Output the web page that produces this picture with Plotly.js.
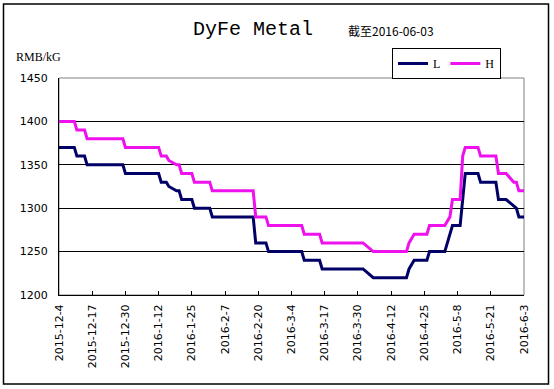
<!DOCTYPE html>
<html>
<head>
<meta charset="utf-8">
<script src="https://cdn.plot.ly/plotly-3.0.1.min.js"></script>
<style>
html,body{margin:0;padding:0;background:#fff;}
#chart{width:554px;height:389px;}
</style>
</head>
<body>
<div id="chart"></div>
<script>
// ---- data ----
const hDates = ['2015-12-04','2015-12-10','2015-12-11','2015-12-14','2015-12-15','2015-12-29','2015-12-30','2016-01-12','2016-01-13','2016-01-15','2016-01-16','2016-01-19','2016-01-20','2016-01-21','2016-01-25','2016-01-26','2016-02-01','2016-02-02','2016-02-18','2016-02-19','2016-02-23','2016-02-24','2016-03-08','2016-03-09','2016-03-15','2016-03-16','2016-04-01','2016-04-05','2016-04-18','2016-04-19','2016-04-21','2016-04-26','2016-04-27','2016-05-03','2016-05-05','2016-05-06','2016-05-09','2016-05-10','2016-05-11','2016-05-16','2016-05-17','2016-05-23','2016-05-24','2016-05-27','2016-05-30','2016-05-31','2016-06-01','2016-06-03'];
const hValues = [1400,1400,1390,1390,1380,1380,1370,1370,1360,1360,1355,1350,1350,1340,1340,1330,1330,1320,1320,1290,1290,1280,1280,1270,1270,1260,1260,1250,1250,1260,1270,1270,1280,1280,1290,1310,1310,1360,1370,1370,1360,1360,1340,1340,1330,1330,1320,1320];

const lDates = ['2015-12-04','2015-12-10','2015-12-11','2015-12-14','2015-12-15','2015-12-29','2015-12-30','2016-01-12','2016-01-13','2016-01-15','2016-01-16','2016-01-19','2016-01-20','2016-01-21','2016-01-25','2016-01-26','2016-02-01','2016-02-02','2016-02-18','2016-02-19','2016-02-23','2016-02-24','2016-03-08','2016-03-09','2016-03-15','2016-03-16','2016-04-01','2016-04-05','2016-04-18','2016-04-19','2016-04-21','2016-04-26','2016-04-27','2016-05-03','2016-05-06','2016-05-09','2016-05-11','2016-05-16','2016-05-17','2016-05-23','2016-05-24','2016-05-27','2016-05-31','2016-06-01','2016-06-03'];
const lValues = [1370,1370,1360,1360,1350,1350,1340,1340,1330,1330,1325,1320,1320,1310,1310,1300,1300,1290,1290,1260,1260,1250,1250,1240,1240,1230,1230,1220,1220,1230,1240,1240,1250,1250,1280,1280,1340,1340,1330,1330,1310,1310,1300,1290,1290];

const tickDates = ['2015-12-04','2015-12-17','2015-12-30','2016-01-12','2016-01-25','2016-02-07','2016-02-20','2016-03-04','2016-03-17','2016-03-30','2016-04-12','2016-04-25','2016-05-08','2016-05-21','2016-06-03'];
const tickLabels = ['2015-12-4','2015-12-17','2015-12-30','2016-1-12','2016-1-25','2016-2-7','2016-2-20','2016-3-4','2016-3-17','2016-3-30','2016-4-12','2016-4-25','2016-5-8','2016-5-21','2016-6-3'];
const yTicks = [1200,1250,1300,1350,1400,1450];

const titleText = 'DyFe Metal';
const subTitle = '截至2016-06-03';
const unitText = 'RMB/kG';

// ---- layout helpers (pixel -> paper) ----
const W = 554, H = 389;
const M = {l:59, r:30, t:78, b:94};
const PW = W - M.l - M.r, PH = H - M.t - M.b;
const px = x => (x - M.l) / PW;
const py = y => (H - M.b - y) / PH;

const traces = [
  {x: lDates, y: lValues, name: 'L', type: 'scatter', mode: 'lines',
   line: {color: '#000066', width: 3}},
  {x: hDates, y: hValues, name: 'H', type: 'scatter', mode: 'lines',
   line: {color: '#ee11ee', width: 3}}
];

const layout = {
  width: W, height: H,
  margin: M,
  paper_bgcolor: '#ffffff', plot_bgcolor: '#ffffff',
  showlegend: true,
  font: {family: 'DejaVu Sans', size: 11, color: '#000'},
  title: {text: titleText, xref: 'paper', x: px(253), xanchor: 'center',
          yref: 'container', y: 1 - 28/H, yanchor: 'middle',
          font: {family: 'Liberation Mono', size: 20, color: '#000'}},
  legend: {orientation: 'h', x: px(392), y: py(48), xanchor: 'left', yanchor: 'top',
           bordercolor: '#000', borderwidth: 1, bgcolor: '#fff',
           font: {family: 'Liberation Serif', size: 12, color: '#000'},
           itemwidth: 30, tracegroupgap: 0},
  xaxis: {type: 'date', range: [tickDates[0], tickDates[tickDates.length-1]],
          tickmode: 'array', tickvals: tickDates, ticktext: tickLabels,
          tickangle: -90, ticks: 'inside', ticklen: 4, tickcolor: '#000',
          showline: true, linecolor: '#000', linewidth: 1, mirror: false,
          showgrid: false, zeroline: false, ticklabelstandoff: 4,
          tickfont: {family: 'DejaVu Sans', size: 11, color: '#000'}},
  yaxis: {range: [1200, 1450], tickmode: 'array', tickvals: yTicks,
          showline: true, linecolor: '#000', linewidth: 1,
          showgrid: true, gridcolor: '#000', gridwidth: 1, zeroline: false,
          ticks: '', ticklabelstandoff: 8,
          tickfont: {family: 'DejaVu Sans', size: 11, color: '#000'}},
  shapes: [
    {type: 'rect', xref: 'paper', yref: 'paper', x0: 0, x1: 1, y0: 0, y1: 1,
     line: {color: '#808080', width: 1}, layer: 'below'},
    {type: 'rect', xref: 'paper', yref: 'paper', x0: px(3.5), x1: px(548.5), y0: py(4), y1: py(384),
     line: {color: '#000', width: 1.5}, fillcolor: 'rgba(0,0,0,0)'}
  ],
  annotations: [
    {text: subTitle, xref: 'paper', yref: 'paper', x: px(346), y: py(31),
     xanchor: 'left', yanchor: 'middle', showarrow: false,
     font: {family: 'Noto Sans CJK SC', size: 12, color: '#000'}},
    {text: unitText, xref: 'paper', yref: 'paper', x: px(14), y: py(57),
     xanchor: 'left', yanchor: 'middle', showarrow: false,
     font: {family: 'Liberation Serif', size: 12, color: '#000'}}
  ]
};

Plotly.newPlot('chart', traces, layout, {displayModeBar: false, staticPlot: true});
</script>
</body>
</html>
